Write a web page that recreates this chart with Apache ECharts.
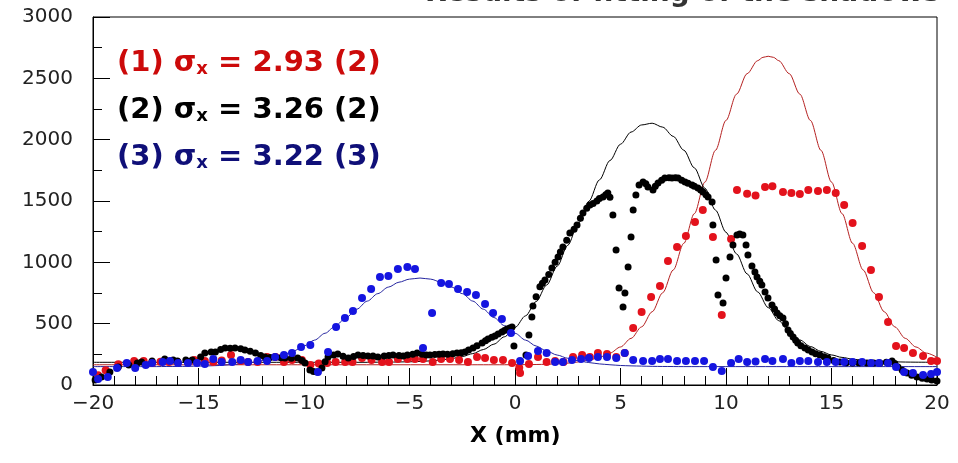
<!DOCTYPE html>
<html>
<head>
<meta charset="utf-8">
<script src="https://cdn.jsdelivr.net/npm/echarts@6/dist/echarts.min.js"></script>
<style>html,body{margin:0;padding:0;background:#fff}#c{width:958px;height:463px}</style>
</head>
<body>
<div id="c"></div>
<script>
// ---- data ----
const titleText = 'Results of fitting of the shadows';
const xAxisName = 'X (mm)';
const xTicks = [-20, -15, -10, -5, 0, 5, 10, 15, 20];
const yTicks = [0, 500, 1000, 1500, 2000, 2500, 3000];
const legendLines = [
  { label: '(1) σ', sub: 'x', rest: ' = 2.93 (2)' },
  { label: '(2) σ', sub: 'x', rest: ' = 3.26 (2)' },
  { label: '(3) σ', sub: 'x', rest: ' = 3.22 (3)' }
];

// series (1) red points
const redPts = [[-19.76,80],[-19.4,120],[-18.8,170],[-18.05,195],[-17.6,195],[-17.2,180],[-16.8,190],[-16.4,187],[-16.0,187],[-15.5,187],[-15.2,204],[-14.7,195],[-14.3,187],[-13.9,200],[-13.46,245],[-13.0,195],[-12.65,187],[-12.2,187],[-11.75,228],[-11.35,228],[-10.95,187],[-10.57,204],[-10.1,204],[-9.7,163],[-9.3,175],[-8.9,180],[-8.5,187],[-8.05,187],[-7.7,187],[-7.25,220],[-6.8,204],[-6.3,187],[-5.97,187],[-5.55,212],[-5.1,212],[-4.74,212],[-4.36,212],[-3.9,187],[-3.5,212],[-3.08,212],[-2.65,204],[-2.23,187],[-1.8,228],[-1.42,220],[-1.0,204],[-0.57,204],[-0.14,180],[0.2,140],[0.24,98],[0.66,171],[1.09,228],[1.5,187],[1.9,195],[2.3,187],[2.75,228],[3.18,245],[3.55,228],[3.93,260],[4.36,253],[4.8,228],[5.2,260],[5.6,465],[6.0,595],[6.45,717],[6.87,807],[7.25,1011],[7.68,1125],[8.1,1215],[8.53,1329],[8.9,1427],[9.38,1207],[9.8,571],[10.24,1190],[10.52,1590],[11.0,1560],[11.4,1545],[11.85,1614],[12.2,1620],[12.7,1573],[13.1,1565],[13.5,1557],[13.9,1590],[14.36,1582],[14.78,1590],[15.2,1565],[15.6,1467],[16.0,1320],[16.45,1133],[16.87,937],[17.25,717],[17.68,514],[18.06,318],[18.44,302],[18.86,261],[19.34,236],[19.72,196],[20.0,196]];

// series (2) black points
const blackPts = [[-19.9,41],[-19.6,65],[-19.2,106],[-18.8,147],[-18.3,163],[-17.9,180],[-17.7,187],[-17.2,195],[-16.6,212],[-16.2,204],[-16,195],[-15.6,204],[-15.3,204],[-14.9,228],[-14.7,261],[-14.4,269],[-14.2,269],[-13.95,290],[-13.74,302],[-13.5,300],[-13.27,302],[-13.0,295],[-12.8,285],[-12.55,275],[-12.3,261],[-12.05,240],[-11.85,228],[-11.6,225],[-11.37,228],[-11.1,222],[-10.9,220],[-10.6,218],[-10.3,220],[-10.1,200],[-9.95,180],[-9.72,122],[-9.55,110],[-9.38,106],[-9.15,139],[-9.0,190],[-8.86,228],[-8.6,245],[-8.4,253],[-8.15,235],[-7.9,220],[-7.65,232],[-7.44,245],[-7.2,240],[-6.97,236],[-6.73,236],[-6.5,228],[-6.2,236],[-5.98,240],[-5.78,245],[-5.5,240],[-5.3,236],[-5.1,245],[-4.85,250],[-4.64,260],[-4.4,250],[-4.2,245],[-4.03,245],[-3.8,248],[-3.6,250],[-3.41,253],[-3.2,250],[-2.95,255],[-2.75,260],[-2.55,262],[-2.37,269],[-2.2,285],[-1.99,302],[-1.8,320],[-1.56,342],[-1.4,360],[-1.28,375],[-1.1,390],[-0.95,400],[-0.8,415],[-0.62,432],[-0.5,445],[-0.38,457],[-0.25,465],[-0.14,473],[-0.05,318],[0.52,245],[0.66,408],[0.8,555],[0.85,644],[1.0,720],[1.18,800],[1.3,830],[1.42,856],[1.6,900],[1.75,954],[1.9,1000],[2.04,1043],[2.15,1085],[2.27,1125],[2.45,1180],[2.6,1239],[2.8,1270],[2.94,1304],[3.1,1360],[3.22,1402],[3.4,1440],[3.55,1467],[3.7,1480],[3.88,1500],[4.0,1520],[4.17,1533],[4.3,1550],[4.4,1565],[4.5,1530],[4.64,1386],[4.79,1100],[4.93,790],[5.12,636],[5.21,750],[5.36,962],[5.5,1207],[5.6,1427],[5.73,1549],[5.88,1630],[6.07,1655],[6.2,1640],[6.3,1614],[6.54,1590],[6.65,1620],[6.78,1647],[6.95,1670],[7.1,1687],[7.3,1690],[7.44,1687],[7.6,1690],[7.73,1687],[7.9,1670],[8.06,1655],[8.2,1645],[8.39,1630],[8.5,1620],[8.67,1606],[8.8,1590],[8.91,1573],[9.05,1550],[9.15,1533],[9.34,1492],[9.38,1304],[9.53,1019],[9.62,734],[9.86,668],[10.0,872],[10.19,1043],[10.33,1141],[10.52,1223],[10.65,1230],[10.8,1223],[10.95,1141],[11.04,1060],[11.23,970],[11.37,921],[11.47,880],[11.6,845],[11.7,815],[11.85,758],[11.99,709],[12.18,652],[12.3,620],[12.42,587],[12.55,565],[12.7,546],[12.82,500],[12.94,448],[13.05,420],[13.18,391],[13.3,365],[13.4,342],[13.55,320],[13.74,302],[13.9,285],[14.08,269],[14.25,255],[14.45,245],[14.65,230],[14.83,220],[15.1,200],[15.4,187],[15.7,182],[16.0,180],[16.3,180],[16.68,180],[17.0,180],[17.3,180],[17.6,185],[17.87,196],[18.0,175],[18.15,147],[18.35,120],[18.58,98],[18.8,80],[19.05,65],[19.3,55],[19.53,49],[19.75,40],[20.0,33]];

// series (3) blue points
const bluePts = [[-20,106],[-19.76,49],[-19.3,65],[-18.86,139],[-18.4,180],[-18.0,139],[-17.5,163],[-17.2,180],[-16.7,187],[-16.35,196],[-15.97,180],[-15.5,180],[-15.07,180],[-14.7,171],[-14.3,212],[-13.9,187],[-13.4,187],[-13.0,204],[-12.65,187],[-12.2,196],[-11.75,196],[-11.37,228],[-10.95,245],[-10.57,261],[-10.14,310],[-9.7,326],[-9.34,106],[-8.86,269],[-8.48,473],[-8.06,546],[-7.68,603],[-7.25,709],[-6.82,783],[-6.4,880],[-6.0,889],[-5.55,946],[-5.1,962],[-4.74,946],[-4.36,302],[-3.93,587],[-3.5,832],[-3.13,823],[-2.7,783],[-2.27,758],[-1.85,734],[-1.42,660],[-1.04,587],[-0.62,538],[-0.19,424],[0.24,196],[0.62,236],[1.09,277],[1.5,261],[1.9,187],[2.27,187],[2.7,204],[3.13,212],[3.5,220],[3.93,228],[4.36,228],[4.8,220],[5.2,260],[5.6,204],[6.07,196],[6.5,196],[6.87,212],[7.25,212],[7.68,196],[8.1,196],[8.53,196],[8.96,196],[9.38,147],[9.8,114],[10.24,180],[10.6,212],[11.0,187],[11.4,192],[11.85,212],[12.2,196],[12.7,212],[13.1,180],[13.5,196],[13.9,196],[14.36,187],[14.78,187],[15.2,187],[15.6,187],[16.0,187],[16.45,187],[16.87,180],[17.25,180],[17.68,180],[18.06,147],[18.44,106],[18.86,98],[19.34,82],[19.72,90],[20.0,106]];

// fitted curves
const redFitX = [-20,-10,-2,-1,-0.5,0,0.5,1,1.5,2,2.5,3,3.5,4,4.5,5,5.5,6,6.5,7,7.5,8,8.5,9,9.5,10,10.5,11,11.5,11.75,12,12.25,12.5,13,13.5,14,14.5,15,15.5,16,16.5,17,17.5,18,18.5,19,19.5,20];
const redFitY = [165,165,165,165,165,166,166,167,169,172,178,188,202,226,260,310,380,474,597,752,938,1155,1397,1654,1913,2157,2371,2538,2644,2671,2680,2671,2644,2538,2371,2157,1913,1654,1397,1155,938,752,597,474,380,310,260,226];

const blackFitX = [-20,-10,-8,-7.5,-7,-6.5,-6,-5.5,-5,-4.5,-4,-3.5,-3,-2.5,-2,-1.5,-1,-0.5,0,0.5,1,1.5,2,2.5,3,3.5,4,4.5,5,5.5,6,6.5,7,7.5,8,8.5,9,9.5,10,10.5,11,11.5,12,12.5,13,13.5,14,14.5,15,15.5,16,16.5,17,17.5,18,18.5,19,20];
const blackFitY = [185,185,185,185,185,186,186,188,189,192,197,204,216,232,256,289,333,393,469,564,680,815,969,1139,1317,1498,1672,1830,1963,2062,2120,2134,2102,2027,1914,1770,1604,1426,1245,1069,906,759,631,524,436,367,314,274,245,225,211,201,195,191,189,187,186,185];

const blueFitX = [-20,-18,-17,-16.5,-16,-15.5,-15,-14.5,-14,-13.5,-13,-12.5,-12,-11.5,-11,-10.5,-10,-9.5,-9,-8.5,-8,-7.5,-7,-6.5,-6,-5.5,-5,-4.5,-4,-3.5,-3,-2.5,-2,-1.5,-1,-0.5,0,0.5,1,1.5,2,2.5,3,3.5,4,4.5,5,5.5,6,6.5,7,8,20];
const blueFitY = [150,150,150,151,151,152,154,156,159,165,172,183,198,218,244,277,318,366,422,484,550,618,684,745,798,838,863,872,863,838,798,745,684,618,550,484,422,366,318,277,244,218,198,183,172,165,159,156,154,152,151,150,150];

// ---- chart ----
const zip = (xs, ys) => xs.map((x, i) => [x, ys[i]]);
const chart = echarts.init(document.getElementById('c'), null, { renderer: 'canvas' });
const labelFont = '"DejaVu Sans", sans-serif';
const boldFont = '"DejaVu Sans", sans-serif';
const colRed = '#e3121c', colBlack = '#000000', colBlue = '#1515e0';
const legendColors = ['#cc0a0a', '#000000', '#0f0f78'];

const graphics = [
  { type: 'text', right: 18, top: -20, style: { text: titleText, font: 'bold 28px ' + boldFont, fill: '#333' } },
  { type: 'text', left: 470, top: 425, style: { text: xAxisName, font: 'bold 22px ' + boldFont, fill: '#000' } }
];
legendLines.forEach((l, i) => {
  graphics.push({
    type: 'text', left: 117, top: 49 + i * 47,
    style: {
      text: '{a|' + l.label + '}{s|' + l.sub + '}{a|' + l.rest + '}',
      rich: {
        a: { font: 'bold 29px ' + boldFont, fill: legendColors[i], lineHeight: 34, verticalAlign: 'bottom' },
        s: { font: 'bold 18px ' + boldFont, fill: legendColors[i], lineHeight: 10, verticalAlign: 'bottom' }
      }
    }
  });
});

const tickStyle = { color: '#000', width: 1 };

chart.setOption({
  animation: false,
  backgroundColor: '#fff',
  grid: { left: 93, right: 21, top: 17, bottom: 78, show: true, borderColor: '#000', borderWidth: 1, backgroundColor: 'transparent' },
  xAxis: {
    type: 'value',
    min: xTicks[0], max: xTicks[xTicks.length - 1], interval: 5,
    axisLine: { show: true, onZero: false, lineStyle: tickStyle },
    axisTick: { show: true, inside: true, length: 17, lineStyle: tickStyle },
    minorTick: { show: true, splitNumber: 5, length: 9, lineStyle: tickStyle },
    splitLine: { show: false },
    axisLabel: { margin: 9, color: '#222', fontSize: 20, fontFamily: labelFont,
      formatter: v => (v < 0 ? '\u2212' + (-v) : String(v)) }
  },
  yAxis: {
    type: 'value',
    min: yTicks[0], max: yTicks[yTicks.length - 1], interval: 500,
    axisLine: { show: true, onZero: false, lineStyle: tickStyle },
    axisTick: { show: true, inside: true, length: 17, lineStyle: tickStyle },
    minorTick: { show: true, splitNumber: 2, length: 9, lineStyle: tickStyle },
    splitLine: { show: false },
    axisLabel: { margin: 20, color: '#222', fontSize: 20, fontFamily: labelFont,
      formatter: v => String(v) }
  },
  graphic: graphics,
  series: [
    { type: 'line', data: zip(redFitX, redFitY), showSymbol: false, smooth: 0.3, smoothMonotone: 'x', lineStyle: { color: '#b52020', width: 1 }, z: 2 },
    { type: 'line', data: zip(blackFitX, blackFitY), showSymbol: false, smooth: 0.3, smoothMonotone: 'x', lineStyle: { color: '#000', width: 1 }, z: 2 },
    { type: 'line', data: zip(blueFitX, blueFitY), showSymbol: false, smooth: 0.3, smoothMonotone: 'x', lineStyle: { color: '#2525a0', width: 1 }, z: 2 },
    { type: 'scatter', data: redPts, symbol: 'circle', symbolSize: 8, itemStyle: { color: colRed, opacity: 1 }, z: 3 },
    { type: 'scatter', data: blackPts, symbol: 'circle', symbolSize: 7, itemStyle: { color: colBlack, opacity: 1 }, z: 4 },
    { type: 'scatter', data: bluePts, symbol: 'circle', symbolSize: 8, itemStyle: { color: colBlue, opacity: 1 }, z: 5 }
  ]
});
</script>
</body>
</html>
